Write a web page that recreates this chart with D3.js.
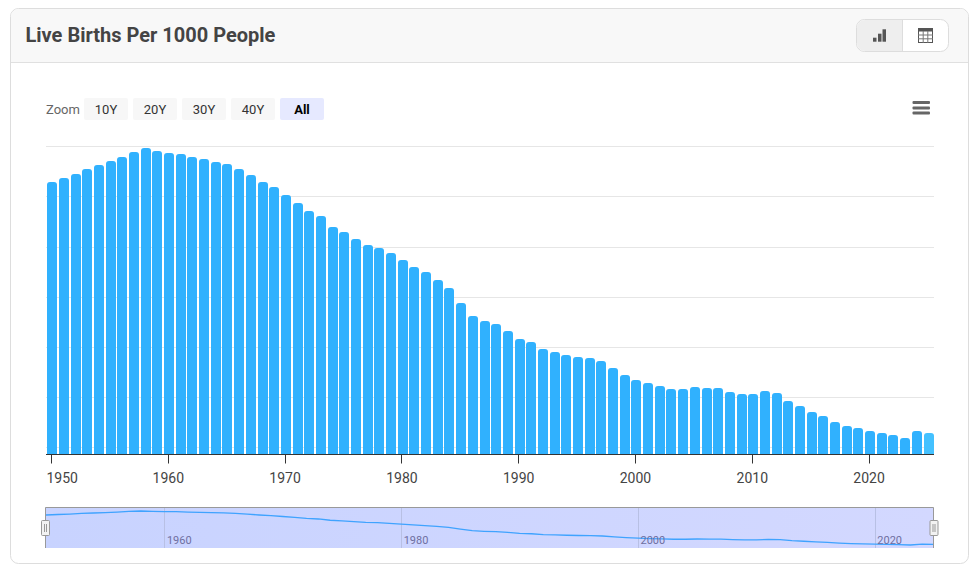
<!DOCTYPE html>
<html>
<head>
<meta charset="utf-8">
<script src="https://cdn.jsdelivr.net/npm/d3@7"></script>
<style>
html,body{margin:0;padding:0;background:#fff;}
svg{display:block;font-family:Roboto,sans-serif;}
</style>
</head>
<body>
<svg id="c" width="978" height="572"></svg>
<script>
const firstYear = 1950;
const rates = [36.45,36.85,37.25,37.74,38.14,38.54,38.94,39.44,39.84,39.54,
39.34,39.24,38.94,38.74,38.44,38.24,37.74,37.15,36.45,35.95,
35.15,34.35,33.55,33.05,31.96,31.46,30.76,30.16,29.86,29.36,
28.66,27.96,27.47,26.67,25.87,24.37,23.07,22.57,22.28,21.58,
20.78,20.48,19.78,19.48,19.18,18.98,18.88,18.58,17.88,17.19,
16.69,16.39,16.09,15.79,15.79,15.99,15.89,15.89,15.49,15.29,
15.29,15.59,15.39,14.59,14.09,13.49,13.09,12.5,12.1,11.9,
11.6,11.4,11.2,10.9,11.6,11.4];
const years = rates.map((_, i) => firstYear + i);
const gridValues = [10,15,20,25,30,35,40];
const axisYears = [1950,1960,1970,1980,1990,2000,2010,2020];
const navYears = [1960,1980,2000,2020];
const zoomLabels = ["10Y","20Y","30Y","40Y","All"];
const title = "Live Births Per 1000 People";

const svg = d3.select("#c");

// card
svg.append("rect").attr("x",10.5).attr("y",8.5).attr("width",958).attr("height",555).attr("rx",8)
  .attr("fill","#fff").attr("stroke","#ddd");
svg.append("path").attr("d","M11,62V17a8,8 0 0 1 8,-8H960a8,8 0 0 1 8,8V62Z").attr("fill","#f8f8f8");
svg.append("line").attr("x1",11).attr("x2",968).attr("y1",62.5).attr("y2",62.5).attr("stroke","#e0e0e0");
svg.append("text").attr("x",25.5).attr("y",41.7).text(title)
  .attr("font-size",20).attr("font-weight",700).attr("fill","#444");

// toggle
const tg = svg.append("g");
tg.append("rect").attr("x",856.5).attr("y",19.5).attr("width",92).attr("height",32).attr("rx",8).attr("fill","#fff").attr("stroke","#ddd");
tg.append("path").attr("d","M902.5,20V51H865a8,8 0 0 1 -8,-8V28a8,8 0 0 1 8,-8Z").attr("fill","#eee");
tg.append("line").attr("x1",902.5).attr("x2",902.5).attr("y1",20).attr("y2",51).attr("stroke","#ddd");
[[873,37.7],[878,33.7],[882.5,29.3]].forEach(([x,y]) =>
  tg.append("rect").attr("x",x).attr("y",y).attr("width",3.5).attr("height",41.7-y).attr("fill","#555"));
tg.append("rect").attr("x",918.5).attr("y",28.5).attr("width",14).attr("height",14).attr("fill","#fff").attr("stroke","#555");
tg.append("rect").attr("x",918).attr("y",28).attr("width",15).attr("height",3.5).attr("fill","#555");
[923.2,927.8].forEach(x => tg.append("line").attr("x1",x).attr("x2",x).attr("y1",31).attr("y2",43).attr("stroke","#777"));
[35,38.8].forEach(y => tg.append("line").attr("x1",918).attr("x2",933).attr("y1",y).attr("y2",y).attr("stroke","#777"));

// zoom buttons
svg.append("text").attr("x",46).attr("y",114).text("Zoom").attr("font-size",13).attr("fill","#666");
zoomLabels.forEach((t,i) => {
  const x = 84 + i*49, on = t === "All";
  svg.append("rect").attr("x",x).attr("y",98).attr("width",44).attr("height",22).attr("rx",2)
    .attr("fill", on ? "#e6e9ff" : "#f7f7f7");
  svg.append("text").attr("x",x+22).attr("y",114).attr("text-anchor","middle").text(t)
    .attr("font-size",13).attr("fill", on ? "#000" : "#333").attr("font-weight", on ? 700 : 400);
});

// menu
[101,106.5,111.5].forEach(y => svg.append("rect").attr("x",912.5).attr("y",y).attr("width",17.5).attr("height",3).attr("rx",1).attr("fill","#666"));

// scales
const x = d3.scaleBand().domain(years).range([47.2,935.2]).paddingInner(0);
const y = d3.scaleLinear().domain([9.3,40]).range([454,146.4]);
const xAxisScale = d3.scaleLinear().domain([1950,2020]).range([51.5,869.1]);
const barW = 10;

// grid
svg.append("g").selectAll("line").data(gridValues).join("line")
  .attr("x1",46).attr("x2",934)
  .attr("y1",d => Math.round(y(d))+0.5).attr("y2",d => Math.round(y(d))+0.5)
  .attr("stroke","#e6e6e6");

// bars
const barPath = (yr,v) => {
  const x0 = Math.round(x(yr)), x1 = x0 + barW, t = Math.round(y(v)), b = y.range()[0], r = 3;
  return `M${x0},${b}V${t+r}Q${x0},${t} ${x0+r},${t}H${x1-r}Q${x1},${t} ${x1},${t+r}V${b}Z`;
};
svg.append("g").selectAll("path").data(years).join("path")
  .attr("d",(d,i) => barPath(d,rates[i]))
  .attr("fill",d => d === 2025 ? "#40c0ff" : "#2caffe")
  .attr("fill-opacity",0.98);

// x axis
const axisG = svg.append("g").attr("transform","translate(0,454)");
axisG.append("line").attr("x1",46).attr("x2",934).attr("y1",0.5).attr("y2",0.5).attr("stroke","#333");
axisYears.forEach(yr => {
  const px = Math.floor(xAxisScale(yr)) + 0.5;
  axisG.append("line").attr("x1",px).attr("x2",px).attr("y1",0).attr("y2",9.5).attr("stroke","#333");
  axisG.append("text").attr("x", yr === 1950 ? 46.5 : xAxisScale(yr))
    .attr("y",29).attr("text-anchor", yr === 1950 ? "start" : "middle")
    .text(yr).attr("font-size",14).attr("fill","#444");
});

// navigator
const defs = svg.append("defs");
const grad = defs.append("linearGradient").attr("id","nav");
grad.append("stop").attr("offset","0").attr("stop-color","#c8d3ff");
grad.append("stop").attr("offset","1").attr("stop-color","#d3d8ff");
const nx = d3.scaleLinear().domain([1950,2025]).range([46,934]);
const ny = d3.scaleLinear().domain([10.9,39.84]).range([545,511]);
svg.append("rect").attr("x",45.5).attr("y",507).attr("width",888).attr("height",41).attr("fill","url(#nav)");
navYears.forEach(yr => {
  const px = Math.round(nx(yr)) + 0.5;
  svg.append("line").attr("x1",px).attr("x2",px).attr("y1",507).attr("y2",548).attr("stroke","#b8c0e4");
});
svg.append("path").attr("d",d3.line().x((d,i)=>nx(years[i])).y(d=>ny(d))(rates))
  .attr("fill","none").attr("stroke","#3fa3ff").attr("stroke-width",1.3);
navYears.forEach(yr => {
  svg.append("text").attr("x",nx(yr)+2.5).attr("y",544).text(yr).attr("font-size",11).attr("fill","#6f6f9f");
});
svg.append("path").attr("d","M45.5,548V507.5H933.5V548").attr("fill","none").attr("stroke","#999");
[41.5,930].forEach(hx => {
  svg.append("rect").attr("x",hx).attr("y",520.5).attr("width",8).attr("height",15).attr("rx",1).attr("fill","#f2f2f2").attr("stroke","#999");
  [hx+3,hx+5].forEach(lx => svg.append("line").attr("x1",lx).attr("x2",lx).attr("y1",524).attr("y2",532).attr("stroke","#999"));
});
</script>
</body>
</html>
